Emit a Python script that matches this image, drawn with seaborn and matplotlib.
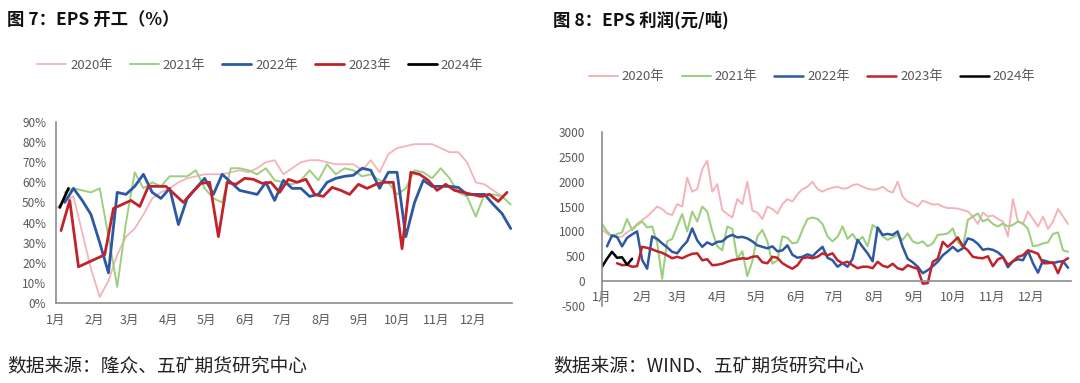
import numpy as np
import pandas as pd
import matplotlib
matplotlib.use("Agg")
import matplotlib.pyplot as plt
import seaborn as sns

sns.set_theme(style="white")
plt.rcParams["font.family"] = ["Noto Sans CJK SC", "DejaVu Sans"]
plt.rcParams["axes.unicode_minus"] = False

# --------------------------------------------------
# data
# --------------------------------------------------
years = ["2020年", "2021年", "2022年", "2023年", "2024年"]
colors = ["#F4B3BA", "#9DCF7F", "#2D58A3", "#C0232B", "#000000"]
month_days = [0, 31, 59, 90, 120, 151, 181, 212, 243, 273, 304, 334]
month_labels = ["1月", "2月", "3月", "4月", "5月", "6月",
                "7月", "8月", "9月", "10月", "11月", "12月"]

# left chart: EPS operating rate (%), weekly, first day of each series
rate_first_day = [0, 7, 7, 4, 3]
rate_2020 = [47, 51, 53, 35, 17, 3, 11, 24, 33, 37, 44, 52, 55, 57, 60, 62, 63,
             64, 64, 64, 65, 66, 65, 67, 70, 71, 64, 67, 70, 71, 71, 70, 69, 69,
             69, 66, 71, 65, 74, 77, 78, 79, 79, 79, 77, 75, 75, 70, 60, 59, 56, 53]
rate_2021 = [55, 57, 56, 55, 57, 33, 8, 40, 65, 57, 60, 58, 63, 63, 63, 66, 57,
             52, 50, 67, 67, 66, 64, 67, 61, 60, 59, 61, 66, 61, 69, 64, 67, 66,
             63, 64, 61, 60, 54, 57, 66, 65, 62, 67, 62, 55, 53, 43, 54, 54, 53, 49]
rate_2022 = [50, 57, 51, 44, 30, 15, 55, 54, 58, 64, 55, 52, 57, 39, 52, 57, 62,
             54, 64, 60, 56, 55, 54, 60, 51, 61, 57, 57, 53, 54, 60, 62, 63, 63.5,
             67, 66, 57, 65, 65, 33, 50, 61, 58, 58, 58, 57.5, 54, 54, 54, 49, 44.5, 37]
rate_2023 = [36, 51, 18, 20, 22, 24, 47, 49, 51, 48, 58, 58, 58, 54, 50, 55, 59.5,
             60, 33, 60, 59, 62, 61.5, 59.5, 60, 55, 61.5, 60, 61.5, 54, 53, 57.5,
             56, 54, 59, 57, 59, 60, 60, 27, 65, 64, 61, 56, 59, 56, 55, 54, 53,
             54, 50.5, 55]
rate_2024 = [47.5, 57]

# right chart: EPS profit (yuan/ton), sampled about every 3.9 days
profit_step = 3.9
profit_2020 = [1040, 960, 900, 880, 900, 980, 1050, 1150, 1230, 1300,
               1400, 1500, 1450, 1360, 1330, 1550, 1500, 2080, 1800, 1850,
               2250, 2420, 1800, 1950, 1430, 1350, 1280, 1650, 1550, 2000,
               1420, 1380, 1250, 1500, 1450, 1360, 1550, 1650, 1600, 1750,
               1850, 1900,
               2000, 1850, 1800, 1850, 1880, 1900, 1860, 1870, 1930, 1950,
               1900, 1860, 1840, 1850, 1900, 1820, 1780, 2000, 1700, 1600,
               1560, 1500, 1620, 1580, 1540, 1550, 1500, 1470, 1470, 1460,
               1430, 1400, 1300, 1150, 1380, 1300, 1320, 1250, 1200, 900,
               1650, 1200, 1150, 1400, 1250, 1100, 1300, 1050, 1200, 1450,
               1300, 1150]
profit_2021 = [1150, 1000, 900, 950, 980, 1250, 1030, 1130, 1200, 1080,
               1100, 780, 50, 800, 850, 1100, 1350, 1000, 1400, 1200,
               1500, 1400, 1000, 700, 620, 1100, 1050, 450, 600, 100,
               400, 900, 1030, 800, 350, 420, 900, 870, 760, 780,
               1030, 1250,
               1280, 1250, 1150, 900, 800, 890, 1100, 850, 950, 800,
               890, 700, 1130, 1050, 900, 830, 880, 930, 830, 960,
               800, 760, 800, 700, 760, 930, 940, 960, 1060, 790,
               680, 1230, 1300, 1360, 1200, 1250, 1150, 1100, 1160, 1100,
               1130, 1200, 1160, 1050, 700, 720, 760, 780, 950, 980,
               620, 590]
profit_2022 = [np.nan, 700, 920, 890, 700, 870, 940, 1000, 430, 250,
               900, 850, 760, 680, 590, 560, 690, 800, 1060, 820,
               690, 780, 730, 790, 800, 890, 930, 880, 890, 860,
               800, 720, 690, 660, 700, 600, 620, 720, 530, 470,
               490, 540,
               500, 600, 690, 470, 420, 290, 360, 290, 450, 830,
               690, 560, 400, 1080, 930, 950, 930, 1000, 690, 450,
               380, 290, 160, 220, 300, 390, 520, 600, 690, 600,
               660, 860, 830, 750, 630, 650, 630, 580, 490, 280,
               400, 440, 420, 610, 360, 170, 420, 390, 360, 390,
               400, 270]
profit_2023 = [np.nan, np.nan, np.nan, 360, 320, 330, 290, 300, 690, 670,
               640, 600, 570, 520, 460, 490, 460, 510, 550, 560,
               420, 440, 320, 330, 350, 390, 420, 440, 460, 450,
               490, 500, 380, 360, 490, 470, 360, 300, 250, 320,
               460, 480,
               460, 490, 560, 520, 560, 420, 360, 390, 320, 260,
               290, 290, 260, 390, 310, 280, 350, 260, 230, 320,
               280, 250, -50, -40, 390, 450, 790, 690, 780, 880,
               700, 620, 490, 470, 460, 500, 300, 440, 480, 330,
               400, 490, 520, 620, 590, 550, 360, 360, 380, 160,
               400, 460]
profit_2024 = [290, 450, 590, 470, 480, 330, 450]

rate_series = [rate_2020, rate_2021, rate_2022, rate_2023, rate_2024]
profit_series = [profit_2020, profit_2021, profit_2022, profit_2023, profit_2024]

rate_df = pd.concat([
    pd.DataFrame({"year": y, "day": start + 7 * np.arange(len(v)), "value": v})
    for y, start, v in zip(years, rate_first_day, rate_series)
])
profit_df = pd.concat([
    pd.DataFrame({"year": y, "day": profit_step * np.arange(len(v)), "value": v})
    for y, v in zip(years, profit_series)
]).dropna()

# --------------------------------------------------
# figure
# --------------------------------------------------
grey = "#595959"
spine_c = "#8C8C8C"
widths_left = [1.3, 1.4, 2.0, 2.0, 2.0]
widths_right = [1.4, 1.5, 1.8, 1.8, 1.8]

fig = plt.figure(figsize=(10.8, 3.83), dpi=100)
ax1 = fig.add_axes([56 / 1080, 1 - 303 / 383, 456 / 1080, 181 / 383])
ax2 = fig.add_axes([602 / 1080, 1 - 306 / 383, 469 / 1080, 174 / 383])

for y, c, lw in zip(years, colors, widths_left):
    d = rate_df[rate_df["year"] == y]
    sns.lineplot(data=d, x="day", y="value", ax=ax1, color=c, linewidth=lw,
                 label=y, estimator=None, sort=False)

for y, c, lw in zip(years, colors, widths_right):
    d = profit_df[profit_df["year"] == y]
    sns.lineplot(data=d, x="day", y="value", ax=ax2, color=c, linewidth=lw,
                 label=y, estimator=None, sort=False)

# left axes
ax1.set_xlim(0, 365)
ax1.set_ylim(0, 90)
ax1.set_yticks(range(0, 91, 10))
ax1.set_yticklabels([f"{v}%" for v in range(0, 91, 10)])
ax1.set_xticks(month_days + [365])
ax1.set_xticklabels(month_labels + [""])
ax1.tick_params(axis="x", direction="out", length=4, width=1, color=spine_c,
                labelsize=9, labelcolor=grey, pad=4)
ax1.tick_params(axis="y", direction="out", length=4, width=1, color=spine_c,
                labelsize=8.5, labelcolor=grey, pad=3)

# right axes
ax2.set_xlim(0, 365)
ax2.set_ylim(-500, 3000)
ax2.set_yticks(range(-500, 3001, 500))
ax2.set_xticks(month_days + [365])
ax2.set_xticklabels(month_labels + [""])
ax2.spines["bottom"].set_position(("data", 0))
ax2.tick_params(axis="x", direction="out", length=4, width=1, color=spine_c,
                labelsize=9, labelcolor=grey, pad=3)
ax2.tick_params(axis="y", direction="out", length=4, width=1, color=spine_c,
                labelsize=8.5, labelcolor=grey, pad=8)

for ax in (ax1, ax2):
    ax.set_xlabel("")
    ax.set_ylabel("")
    ax.grid(False)
    for s in ("top", "right"):
        ax.spines[s].set_visible(False)
    for s in ("left", "bottom"):
        ax.spines[s].set_color(spine_c)
        ax.spines[s].set_linewidth(1.2)
    ax.set_facecolor("none")

# legends
for ax, pos in ((ax1, (0.241, 0.830)), (ax2, (0.752, 0.799))):
    handles, labels = ax.get_legend_handles_labels()
    ax.get_legend().remove()
    fig.legend(handles, labels, loc="center", bbox_to_anchor=pos, ncol=5,
               frameon=False, fontsize=9.5, handlelength=2.2,
               handletextpad=0.3, columnspacing=1.3, labelcolor=grey)

# titles and sources
fig.text(7 / 1080, 1 - 20 / 383, "图 7：EPS 开工（%）", fontsize=12.5,
         fontweight="bold", va="center", ha="left", color="#111111")
fig.text(553 / 1080, 1 - 20 / 383, "图 8：EPS 利润(元/吨)", fontsize=12.5,
         fontweight="bold", va="center", ha="left", color="#111111")
fig.text(7 / 1080, 1 - 366 / 383, "数据来源：隆众、五矿期货研究中心",
         fontsize=13.5, va="center", ha="left", color="#222222")
fig.text(553 / 1080, 1 - 366 / 383, "数据来源：WIND、五矿期货研究中心",
         fontsize=13.5, va="center", ha="left", color="#222222")

fig.savefig("out.png", dpi=100)
plt.close(fig)
